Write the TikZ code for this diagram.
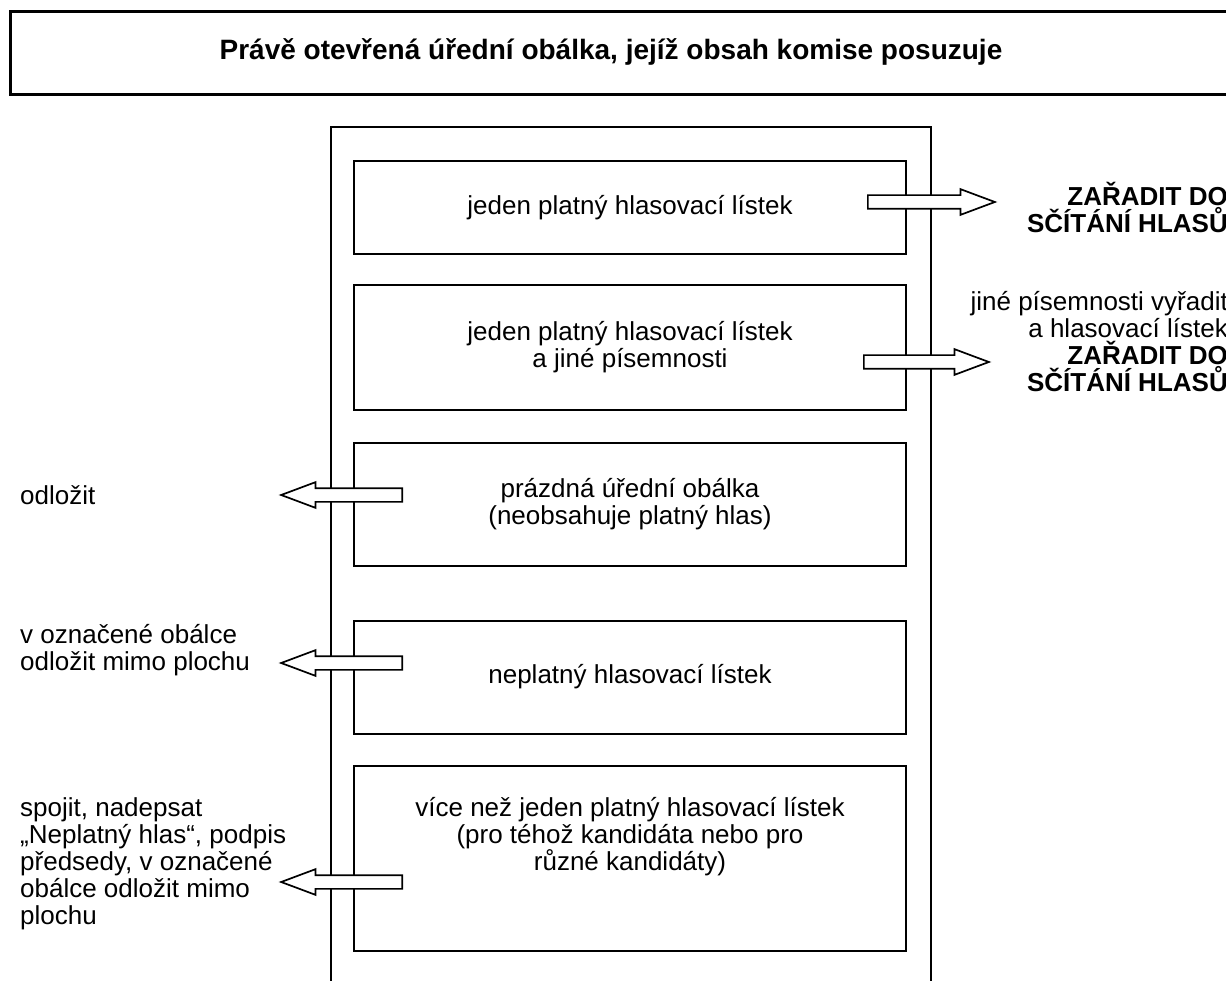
\documentclass[tikz,border=0pt]{standalone}
\usepackage{fontspec}
\setmainfont{Liberation Sans}
\usetikzlibrary{shapes.arrows}

\begin{document}
\begin{tikzpicture}[x=1pt,y=-1pt,
  every node/.style = {font=\fontsize{26}{27}\selectfont, align=center},
  box/.style = {draw, line width=2pt, minimum width=552pt, inner sep=0pt},
  blockarrow/.style = {single arrow, draw, fill=white, line width=1.7pt,
    inner sep=6pt, single arrow head extend=6pt,
    single arrow tip angle=41},
  note/.style = {align=left, anchor=west, inner sep=0pt}]
  \useasboundingbox (0,0) rectangle (1226,981);
  \clip (0,0) rectangle (1226,981);

  % header
  \node[draw, line width=3pt, minimum width=1240pt, minimum height=83pt,
    anchor=north west] (hlavicka) at (9,10) {};
  \node[font=\bfseries\fontsize{28}{30}\selectfont] (nadpis) at (611,52)
    {Právě otevřená úřední obálka, jejíž obsah komise posuzuje};

  % envelope and its cases
  \node[draw, line width=2pt, minimum width=600pt, minimum height=900pt,
    anchor=north west] (obalka) at (330,126) {};
  \node[box, minimum height=93pt] (platny) at (630,207.5)
    {jeden platný hlasovací lístek};
  \node[box, minimum height=124pt] (platnyjine) at (630,347.5)
    {jeden platný hlasovací lístek\\a jiné písemnosti};
  \node[box, minimum height=123pt] (prazdna) at (630,504)
    {prázdná úřední obálka\\(neobsahuje platný hlas)};
  \node[box, minimum height=113pt] (neplatny) at (630,677)
    {neplatný hlasovací lístek};
  \node[box, minimum height=185pt] (vice) at (630,858.5) {};
  \node (vicetext) at (630,837)
    {více než jeden platný hlasovací lístek\\(pro téhož kandidáta nebo pro\\různé kandidáty)};

  % arrows
  \node[blockarrow, minimum height=127pt, anchor=tail] (sipkaA) at (867,202) {};
  \node[blockarrow, minimum height=125pt, anchor=tail] (sipkaB) at (863,362) {};
  \node[blockarrow, shape border rotate=180, minimum height=121pt, anchor=tail] (sipkaC) at (403,495) {};
  \node[blockarrow, shape border rotate=180, minimum height=121pt, anchor=tail] (sipkaD) at (403,663) {};
  \node[blockarrow, shape border rotate=180, minimum height=121pt, anchor=tail] (sipkaE) at (403,882) {};

  % what to do
  \node[anchor=east, align=right, inner sep=0pt, font=\bfseries\fontsize{26}{27}\selectfont]
    (zaradit) at (1228,207) {ZAŘADIT DO\\SČÍTÁNÍ HLASŮ};
  \node[anchor=east, align=right, inner sep=0pt] (vyradit) at (1228,342)
    {jiné písemnosti vyřadit\\a hlasovací lístek\\\textbf{ZAŘADIT DO}\\\textbf{SČÍTÁNÍ HLASŮ}};
  \node[note] (odlozit) at (20,495) {odložit};
  \node[note] (mimo) at (20,650) {v označené obálce\\odložit mimo plochu};
  \node[note] (spojit) at (20,864)
    {spojit, nadepsat\\„Neplatný hlas“, podpis\\předsedy, v označené\\obálce odložit mimo\\plochu};
\end{tikzpicture}
\end{document}
